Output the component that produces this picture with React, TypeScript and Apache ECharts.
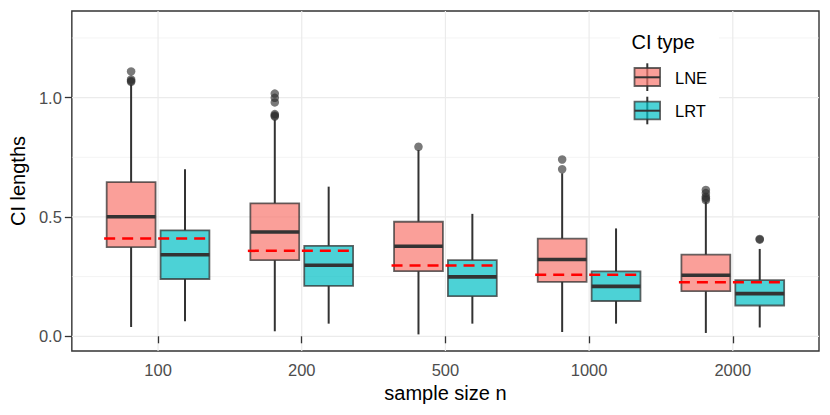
import React, { useEffect, useRef } from "react";
import * as echarts from "echarts";

// ---------- data ----------
const categories = ["100", "200", "500", "1000", "2000"];
const seriesNames = ["LNE", "LRT"];
// [min whisker, Q1, median, Q3, max whisker]
const lneStats = [
  [0.039, 0.374, 0.501, 0.646, 1.055],
  [0.021, 0.319, 0.437, 0.557, 0.908],
  [0.008, 0.273, 0.377, 0.48, 0.78],
  [0.018, 0.228, 0.322, 0.409, 0.683],
  [0.014, 0.189, 0.256, 0.342, 0.564],
];
const lrtStats = [
  [0.063, 0.24, 0.342, 0.444, 0.7],
  [0.053, 0.211, 0.298, 0.379, 0.627],
  [0.053, 0.168, 0.249, 0.319, 0.513],
  [0.053, 0.148, 0.209, 0.272, 0.452],
  [0.037, 0.129, 0.179, 0.235, 0.366],
];
// [category index, value]
const lneOutliers = [
  [0, 1.11], [0, 1.076], [0, 1.07], [0, 1.066],
  [1, 1.017], [1, 0.999], [1, 0.98], [1, 0.931], [1, 0.925], [1, 0.921],
  [2, 0.794],
  [3, 0.741], [3, 0.7],
  [4, 0.613], [4, 0.6], [4, 0.585], [4, 0.578], [4, 0.571],
];
const lrtOutliers = [
  [4, 0.408], [4, 0.405],
];
const referenceValues = [0.41, 0.358, 0.297, 0.258, 0.226];
const yTickValues = [0, 0.5, 1.0];
const yMinorValues = [0.25, 0.75, 1.25];

// ---------- layout constants ----------
const DODGE = 0.1875;
const BOX_W = 0.34;
const FONT = "'Liberation Sans', Arial, Helvetica, sans-serif";
const LNE_FILL = "rgba(248,118,109,0.7)";
const LRT_FILL = "rgba(0,191,196,0.7)";
const EDGE = "rgba(51,51,51,0.75)";

function boxRender(fill: string) {
  return (params: any, api: any) => {
    const x = api.value(0);
    const w = api.size([BOX_W, 0])[0];
    const pMin = api.coord([x, api.value(1)]);
    const pQ1 = api.coord([x, api.value(2)]);
    const pMed = api.coord([x, api.value(3)]);
    const pQ3 = api.coord([x, api.value(4)]);
    const pMax = api.coord([x, api.value(5)]);
    const cx = pMed[0];
    return {
      type: "group",
      children: [
        { type: "line", shape: { x1: cx, y1: pQ3[1], x2: cx, y2: pMax[1] }, style: { stroke: "#333333", lineWidth: 2 } },
        { type: "line", shape: { x1: cx, y1: pQ1[1], x2: cx, y2: pMin[1] }, style: { stroke: "#333333", lineWidth: 2 } },
        { type: "rect", shape: { x: cx - w / 2, y: pQ3[1], width: w, height: pQ1[1] - pQ3[1] }, style: { fill, stroke: EDGE, lineWidth: 1.8 } },
        { type: "line", shape: { x1: cx - w / 2, y1: pMed[1], x2: cx + w / 2, y2: pMed[1] }, style: { stroke: "#333333", lineWidth: 3.6 } },
      ],
    };
  };
}

export default function App() {
  const ref = useRef<HTMLDivElement>(null);
  useEffect(() => {
    document.body.style.margin = "0";
    const chart = echarts.init(ref.current!, undefined, { renderer: "svg" });

    const lneData = lneStats.map((s, i) => [i + 1 - DODGE, ...s]);
    const lrtData = lrtStats.map((s, i) => [i + 1 + DODGE, ...s]);
    const gridData: any[] = [
      ...categories.map((_, i) => [0, i + 1, 1]),
      ...yTickValues.map((v) => [1, v, 1]),
      ...yMinorValues.map((v) => [1, v, 0]),
    ];

    chart.setOption({
      animation: false,
      backgroundColor: "#ffffff",
      grid: { left: 70, top: 11, width: 749, height: 340, show: true, borderColor: "#333333", borderWidth: 1.4, backgroundColor: "transparent", containLabel: false },
      xAxis: {
        type: "value",
        min: 0.4,
        max: 5.6,
        name: "sample size n",
        nameLocation: "middle",
        nameGap: 32,
        nameTextStyle: { fontFamily: FONT, fontSize: 20, color: "#000000" },
        axisLine: { show: false },
        splitLine: { show: false },
        axisTick: { show: true, length: 7, lineStyle: { color: "#333333", width: 1.3 }, customValues: [1, 2, 3, 4, 5] },
        axisLabel: {
          show: true,
          margin: 10,
          customValues: [1, 2, 3, 4, 5],
          formatter: (v: number) => categories[Math.round(v) - 1] ?? "",
          fontFamily: FONT,
          fontSize: 16.5,
          color: "#4D4D4D",
        },
      },
      yAxis: {
        type: "value",
        min: -0.0616,
        max: 1.363,
        name: "CI lengths",
        nameLocation: "middle",
        nameGap: 43,
        nameTextStyle: { fontFamily: FONT, fontSize: 20, color: "#000000" },
        axisLine: { show: false },
        splitLine: { show: false },
        axisTick: { show: true, length: 7, lineStyle: { color: "#333333", width: 1.3 }, customValues: yTickValues },
        axisLabel: {
          show: true,
          margin: 10,
          customValues: yTickValues,
          formatter: (v: number) => v.toFixed(1),
          fontFamily: FONT,
          fontSize: 16.5,
          color: "#4D4D4D",
        },
      },
      series: [
        {
          type: "custom",
          name: "grid",
          silent: true,
          z: 0,
          data: gridData,
          renderItem: (params: any, api: any) => {
            const cs = params.coordSys;
            const kind = api.value(0);
            const v = api.value(1);
            const major = api.value(2) === 1;
            const lw = major ? 1.2 : 0.6;
            if (kind === 0) {
              const p = api.coord([v, 0]);
              return { type: "line", shape: { x1: p[0], y1: cs.y, x2: p[0], y2: cs.y + cs.height }, style: { stroke: "#EBEBEB", lineWidth: lw } };
            }
            const p = api.coord([1, v]);
            return { type: "line", shape: { x1: cs.x, y1: p[1], x2: cs.x + cs.width, y2: p[1] }, style: { stroke: "#EBEBEB", lineWidth: lw } };
          },
          encode: { x: 1, y: 1 },
        },
        {
          type: "custom",
          name: seriesNames[0],
          z: 2,
          data: lneData,
          renderItem: boxRender(LNE_FILL),
          encode: { x: 0, y: [1, 2, 3, 4, 5] },
        },
        {
          type: "custom",
          name: seriesNames[1],
          z: 2,
          data: lrtData,
          renderItem: boxRender(LRT_FILL),
          encode: { x: 0, y: [1, 2, 3, 4, 5] },
        },
        {
          type: "scatter",
          name: "LNE outliers",
          z: 3,
          symbolSize: 8.5,
          data: lneOutliers.map(([c, v]) => [c + 1 - DODGE, v]),
          itemStyle: { color: "rgba(45,45,45,0.8)" },
        },
        {
          type: "scatter",
          name: "LRT outliers",
          z: 3,
          symbolSize: 8.5,
          data: lrtOutliers.map(([c, v]) => [c + 1 + DODGE, v]),
          itemStyle: { color: "rgba(45,45,45,0.8)" },
        },
        {
          type: "custom",
          name: "reference",
          z: 4,
          data: referenceValues.map((v, i) => [i + 1, v]),
          renderItem: (params: any, api: any) => {
            const x = api.value(0);
            const a = api.coord([x - 0.375, api.value(1)]);
            const b = api.coord([x + 0.375, api.value(1)]);
            return { type: "line", shape: { x1: a[0], y1: a[1], x2: b[0], y2: b[1] }, style: { stroke: "#FF0000", lineWidth: 2.5, lineDash: [11, 7] } };
          },
          encode: { x: 0, y: 1 },
        },
      ],
      graphic: [
        { type: "rect", z: 10, shape: { x: 620, y: 22, width: 99, height: 110 }, style: { fill: "#ffffff" } },
        { type: "text", z: 11, x: 631.5, y: 41.7, style: { text: "CI type", fontFamily: FONT, fontSize: 20, fill: "#000000", verticalAlign: "middle", align: "left" } },
        // LNE key
        { type: "line", z: 11, shape: { x1: 647.3, y1: 63.3, x2: 647.3, y2: 91 }, style: { stroke: "#333333", lineWidth: 2 } },
        { type: "rect", z: 11, shape: { x: 634.5, y: 68, width: 25.6, height: 18 }, style: { fill: LNE_FILL, stroke: EDGE, lineWidth: 1.8 } },
        { type: "line", z: 12, shape: { x1: 634.5, y1: 77.3, x2: 660.1, y2: 77.3 }, style: { stroke: "#333333", lineWidth: 2 } },
        { type: "text", z: 11, x: 675, y: 77.5, style: { text: seriesNames[0], fontFamily: FONT, fontSize: 16.5, fill: "#000000", verticalAlign: "middle", align: "left" } },
        // LRT key
        { type: "line", z: 11, shape: { x1: 647.3, y1: 96.7, x2: 647.3, y2: 124.3 }, style: { stroke: "#333333", lineWidth: 2 } },
        { type: "rect", z: 11, shape: { x: 634.5, y: 101.7, width: 25.6, height: 17.6 }, style: { fill: LRT_FILL, stroke: EDGE, lineWidth: 1.8 } },
        { type: "line", z: 12, shape: { x1: 634.5, y1: 110.7, x2: 660.1, y2: 110.7 }, style: { stroke: "#333333", lineWidth: 2 } },
        { type: "text", z: 11, x: 675, y: 110.9, style: { text: seriesNames[1], fontFamily: FONT, fontSize: 16.5, fill: "#000000", verticalAlign: "middle", align: "left" } },
      ],
    });
    return () => chart.dispose();
  }, []);
  return <div ref={ref} style={{ width: 830, height: 415 }} />;
}
